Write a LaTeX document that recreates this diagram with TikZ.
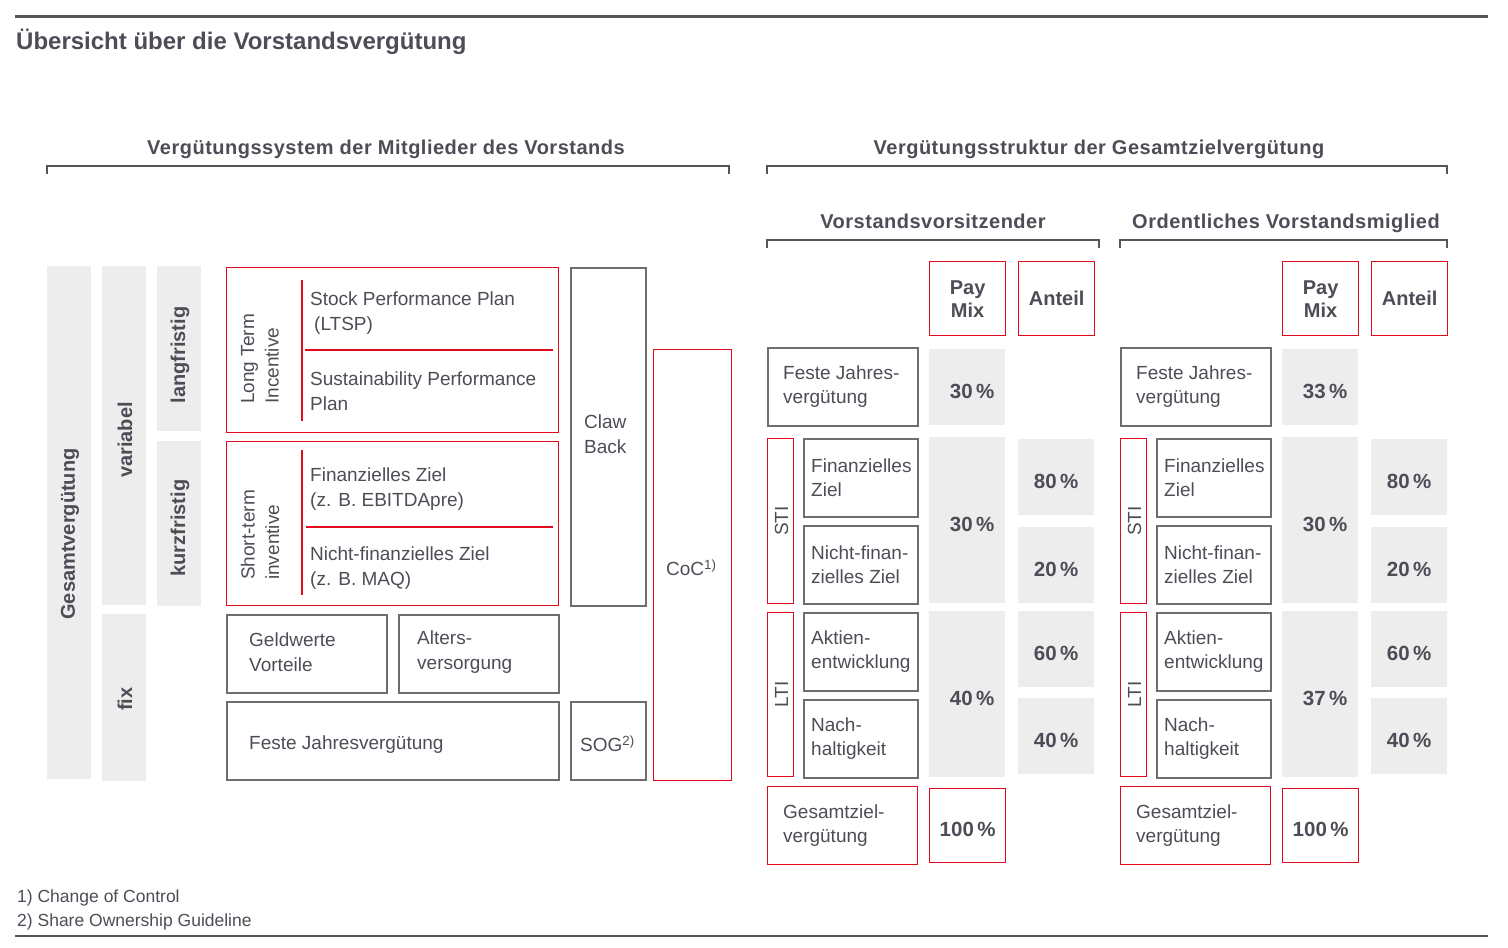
\documentclass[tikz,border=0pt]{standalone}
\usepackage{fontspec}
\setmainfont{Liberation Sans}
\newfontfamily\headfont[LetterSpace=2.5]{Liberation Sans}
\usetikzlibrary{calc}
\definecolor{txtc}{HTML}{4D4D57}
\definecolor{myred}{HTML}{E30A1E}
\definecolor{boxgray}{HTML}{6E6E6E}
\definecolor{fillgray}{HTML}{EDEDED}
\definecolor{rulegray}{HTML}{55555B}
\newcommand\bx[6]{\pgfmathsetmacro\bxw{#5-#3}\pgfmathsetmacro\bxh{#6-#4}%
  \node[#1,minimum width=\bxw pt,minimum height=\bxh pt,anchor=north west] (#2) at (#3,#4) {};}
\begin{document}
\begin{tikzpicture}[x=1pt,y=-1pt,
  gbox/.style={draw=boxgray,line width=1.5pt,inner sep=0pt},
  rbox/.style={draw=myred,line width=1.3pt,inner sep=0pt},
  fbox/.style={fill=fillgray,inner sep=0pt},
  txt/.style={text=txtc,font=\fontsize{19}{24.5}\selectfont,align=left,inner sep=0pt},
  btxt/.style={text=txtc,font=\bfseries\fontsize{20}{23}\selectfont,align=center,inner sep=0pt},
  ptxt/.style={text=txtc,font=\bfseries\fontsize{20.5}{23}\selectfont,align=center,inner sep=0pt},
  head/.style={text=txtc,font=\headfont\bfseries\fontsize{20}{22}\selectfont,inner sep=0pt,anchor=base},
  bracket/.style={draw=rulegray,line width=1.2pt},
  divider/.style={draw=myred,line width=1.2pt}]
\useasboundingbox (0,0) rectangle (1508,948);
% rules and title
\draw[rulegray,line width=3pt] (15,16) -- (1488,16);
\draw[rulegray,line width=1.5pt] (15,936) -- (1488,936);
\node[text=txtc,font=\bfseries\fontsize{24}{28}\selectfont,anchor=west,inner sep=0pt] (title) at (16,42) {Übersicht über die Vorstandsvergütung};
% section headings
\node[head] (h1) at (386,154) {Vergütungssystem der Mitglieder des Vorstands};
\node[head] (h2) at (1099,154) {Vergütungsstruktur der Gesamtzielvergütung};
\draw[bracket] (47,174) -- (47,166) -- (729,166) -- (729,174);
\draw[bracket] (767,174) -- (767,166) -- (1447,166) -- (1447,174);
% left gray bars
\bx{fbox}{gv}{47}{266}{91}{779}
\bx{fbox}{va}{102}{266}{146}{605}
\bx{fbox}{fx}{102}{614}{146}{781}
\bx{fbox}{lf}{157}{266}{201}{431}
\bx{fbox}{kf}{157}{441}{201}{606}
\node[btxt,rotate=90] (tgv) at (70,534) {Gesamtvergütung};
\node[btxt,rotate=90] (tva) at (125,440) {variabel};
\node[btxt,rotate=90] (tfx) at (125,699) {fix};
\node[btxt,rotate=90] (tlf) at (180,355) {langfristig};
\node[btxt,rotate=90] (tkf) at (180,528) {kurzfristig};
% LTI / STI boxes
\bx{rbox}{lti}{226}{267}{558}{432}
\bx{rbox}{sti}{226}{441}{558}{605}
\draw[divider] (302,280) -- (302,421);
\draw[divider] (305,350) -- (553,350);
\draw[divider] (302,450) -- (302,595);
\draw[divider] (306,527) -- (553,527);
\node[txt,rotate=90,anchor=west] (tlti) at (260,404) {Long Term\\Incentive};
\node[txt,rotate=90,anchor=west] (tsti) at (260,580) {Short-term\\inventive};
\node[txt,anchor=west] (tsp) at (310,313) {Stock Performance Plan\\\hspace{4pt}(LTSP)};
\node[txt,anchor=west] (tsu) at (310,391) {Sustainability Performance\\Plan};
\node[txt,anchor=west] (tfi) at (310,489) {Finanzielles Ziel\\(z. B. EBITDApre)};
\node[txt,anchor=west] (tnf) at (310,568) {Nicht-finanzielles Ziel\\(z. B. MAQ)};
% other boxes
\bx{gbox}{gw}{226}{614}{386}{692}
\bx{gbox}{av}{398}{614}{558}{692}
\bx{gbox}{fj}{226}{701}{558}{779}
\bx{gbox}{cb}{570}{267}{645}{605}
\bx{gbox}{sog}{570}{701}{645}{779}
\bx{rbox}{coc}{653}{349}{731}{780}
\node[txt,anchor=west] (tgw) at (249,652) {Geldwerte\\Vorteile};
\node[txt,anchor=west] (tav) at (417,652) {Alters-\\versorgung};
\node[txt,anchor=west] (tfj) at (249,745) {Feste Jahresvergütung};
\node[txt,anchor=west] (tcb) at (584,434) {Claw\\Back};
\node[txt,anchor=west] (tcoc) at (666,568) {CoC\textsuperscript{1)}};
\node[txt,anchor=west] (tsog) at (580,744) {SOG\textsuperscript{2)}};
% right structure
\foreach \p/\dx/\hd/\va/\vb/\vc/\be in {L/0/Vorstandsvorsitzender/30/30/40/1099, R/353/Ordentliches Vorstandsmiglied/33/30/37/1094}{
\begin{scope}[xshift=\dx pt]
\node[head] (\p hd) at (933,228) {\hd};
\draw[bracket] (767,248) -- (767,240) -- (\be,240) -- (\be,248);
\bx{rbox}{\p pm}{929}{261}{1005}{335}
\bx{rbox}{\p an}{1018}{261}{1094}{335}
\node[btxt] (\p tpm) at (\p pm.center) {Pay\\Mix};
\node[btxt] (\p tan) at (\p an.center) {Anteil};
\bx{gbox}{\p fj}{767}{347}{917}{425}
\bx{fbox}{\p pa}{929}{349}{1005}{425}
\bx{rbox}{\p sti}{767}{438}{793}{603}
\bx{gbox}{\p fz}{803}{438}{917}{516}
\bx{gbox}{\p nf}{803}{525}{917}{603}
\bx{fbox}{\p pb}{929}{437}{1005}{603}
\bx{fbox}{\p aa}{1018}{439}{1094}{515}
\bx{fbox}{\p ab}{1018}{527}{1094}{603}
\bx{rbox}{\p lti}{767}{612}{793}{776}
\bx{gbox}{\p ak}{803}{612}{917}{690}
\bx{gbox}{\p nh}{803}{699}{917}{777}
\bx{fbox}{\p pc}{929}{611}{1005}{777}
\bx{fbox}{\p ac}{1018}{611}{1094}{687}
\bx{fbox}{\p ad}{1018}{698}{1094}{774}
\bx{rbox}{\p gz}{767}{786}{917}{864}
\bx{rbox}{\p pt}{929}{788}{1005}{862}
\node[txt,anchor=west] (\p tfj) at ($(\p fj.west)+(16,0)$) {Feste Jahres-\\vergütung};
\node[txt,anchor=west] (\p tfz) at ($(\p fz.west)+(8,0)$) {Finanzielles\\Ziel};
\node[txt,anchor=west] (\p tnf) at ($(\p nf.west)+(8,0)$) {Nicht-finan-\\zielles Ziel};
\node[txt,anchor=west] (\p tak) at ($(\p ak.west)+(8,0)$) {Aktien-\\entwicklung};
\node[txt,anchor=west] (\p tnh) at ($(\p nh.west)+(8,0)$) {Nach-\\haltigkeit};
\node[txt,anchor=west] (\p tgz) at ($(\p gz.west)+(16,0)$) {Gesamtziel-\\vergütung};
\node[txt,rotate=90] (\p tsti) at ($(\p sti.center)+(1,0)$) {STI};
\node[txt,rotate=90] (\p tlti) at ($(\p lti.center)+(1,0)$) {LTI};
\node[ptxt] (\p tpa) at ($(\p pa.center)+(5,4)$) {\va\,\%};
\node[ptxt] (\p tpb) at ($(\p pb.center)+(5,4)$) {\vb\,\%};
\node[ptxt] (\p tpc) at ($(\p pc.center)+(5,4)$) {\vc\,\%};
\node[ptxt] (\p taa) at ($(\p aa.center)+(0,4)$) {80\,\%};
\node[ptxt] (\p tab) at ($(\p ab.center)+(0,4)$) {20\,\%};
\node[ptxt] (\p tac) at ($(\p ac.center)+(0,4)$) {60\,\%};
\node[ptxt] (\p tad) at ($(\p ad.center)+(0,4)$) {40\,\%};
\node[ptxt] (\p tpt) at ($(\p pt.center)+(0,4)$) {100\,\%};
\end{scope}}
% footnotes
\node[txt,font=\fontsize{17.5}{22}\selectfont,anchor=west] (fn1) at (17,898) {1) Change of Control};
\node[txt,font=\fontsize{17.5}{22}\selectfont,anchor=west] (fn2) at (17,922) {2) Share Ownership Guideline};
\end{tikzpicture}
\end{document}
